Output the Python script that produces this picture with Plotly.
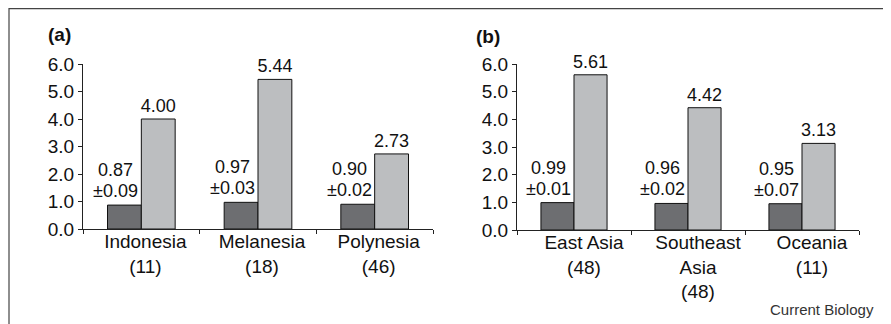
import plotly.graph_objects as go

# page body has an 8px margin, so the figure is sized to fit the window
OFF = 8
W, H = 891 - OFF, 324 - OFF

cats_a = ["Indonesia<br>(11)", "Melanesia<br>(18)", "Polynesia<br>(46)"]
dark_a = [0.87, 0.97, 0.90]
err_a = [0.09, 0.03, 0.02]
light_a = [4.00, 5.44, 2.73]

cats_b = ["East Asia<br>(48)", "Southeast<br>Asia<br>(48)", "Oceania<br>(11)"]
dark_b = [0.99, 0.96, 0.95]
err_b = [0.01, 0.02, 0.07]
light_b = [5.61, 4.42, 3.13]

y_ticks = [0, 1, 2, 3, 4, 5, 6]
y_ticklabels = ["0.0", "1.0", "2.0", "3.0", "4.0", "5.0", "6.0"]

DARK = "#6d6e71"
LIGHT = "#bcbec0"
FONT = "Liberation Sans, Arial, sans-serif"
FS = 19
LFS = 18

fig = go.Figure()

def add_panel(cats, dark, err, light, xa, ya):
    fig.add_trace(go.Bar(x=cats, y=dark, marker=dict(color=DARK, line=dict(color="#111", width=1)),
                         xaxis=xa, yaxis=ya, showlegend=False, hoverinfo="skip"))
    fig.add_trace(go.Bar(x=cats, y=light, marker=dict(color=LIGHT, line=dict(color="#111", width=1)),
                         text=[f"{v:.2f}" for v in light], textposition="outside",
                         textfont=dict(family=FONT, size=18, color="#111"),
                         constraintext="none", cliponaxis=False,
                         xaxis=xa, yaxis=ya, showlegend=False, hoverinfo="skip"))
    for c, d, e in zip(cats, dark, err):
        fig.add_annotation(text=f"±{e:.2f}", xref=xa, yref=ya, x=c, y=d,
                           xanchor="right", yanchor="bottom", xshift=-2, yshift=3,
                           borderpad=0, showarrow=False,
                           font=dict(family=FONT, size=LFS, color="#111"))
        fig.add_annotation(text=f"{d:.2f}", xref=xa, yref=ya, x=c, y=d,
                           xanchor="right", yanchor="bottom", xshift=-7, yshift=24,
                           borderpad=0, showarrow=False,
                           font=dict(family=FONT, size=LFS, color="#111"))

add_panel(cats_a, dark_a, err_a, light_a, "x", "y")
add_panel(cats_b, dark_b, err_b, light_b, "x2", "y2")

def px_x(p):
    return (p - OFF) / W

def px_y(p):
    return (H - (p - OFF)) / H

xcommon = dict(type="category", showline=True, linecolor="#222", linewidth=1,
               ticks="outside", ticklen=4, tickcolor="#222", tickson="boundaries",
               ticklabelstandoff=-5,
               tickfont=dict(family=FONT, size=FS, color="#111"), showgrid=False,
               zeroline=False, fixedrange=True, automargin=False)
ycommon = dict(range=[0, 6], tickvals=y_ticks, ticktext=y_ticklabels, showline=True,
               linecolor="#222", linewidth=1, ticks="outside", ticklen=4, tickcolor="#222",
               tickfont=dict(family=FONT, size=FS, color="#111"), showgrid=False,
               zeroline=False, fixedrange=True, automargin=False)

fig.update_layout(
    template="none",
    width=W, height=H, margin=dict(l=0, r=0, t=0, b=0, pad=0, autoexpand=False),
    paper_bgcolor="white", plot_bgcolor="white",
    barmode="group", bargap=0.42, bargroupgap=0,
    xaxis=dict(domain=[px_x(83), px_x(433)], anchor="y", ticklabelshift=4, **xcommon),
    yaxis=dict(domain=[px_y(229), px_y(64)], anchor="x", **ycommon),
    xaxis2=dict(domain=[px_x(517), px_x(859)], anchor="y2", ticklabelshift=10, **xcommon),
    yaxis2=dict(domain=[px_y(230), px_y(64)], anchor="x2", **ycommon),
    font=dict(family=FONT, size=FS, color="#111"),
)

fig.add_shape(type="rect", xref="paper", yref="paper",
              x0=px_x(9), x1=px_x(885), y0=-0.2, y1=px_y(8.6),
              line=dict(color="#444", width=1.2), fillcolor="rgba(0,0,0,0)", layer="below")

fig.add_annotation(text="<b>(a)</b>", xref="paper", yref="paper", x=px_x(46), y=px_y(34),
                   xanchor="left", yanchor="middle", showarrow=False,
                   font=dict(family=FONT, size=19, color="#111"))
fig.add_annotation(text="<b>(b)</b>", xref="paper", yref="paper", x=px_x(474), y=px_y(36),
                   xanchor="left", yanchor="middle", showarrow=False,
                   font=dict(family=FONT, size=19, color="#111"))
fig.add_annotation(text="Current Biology", xref="paper", yref="paper", x=px_x(876), y=px_y(309),
                   xanchor="right", yanchor="middle", showarrow=False,
                   font=dict(family=FONT, size=15, color="#333"))

fig.write_html("out.html")
